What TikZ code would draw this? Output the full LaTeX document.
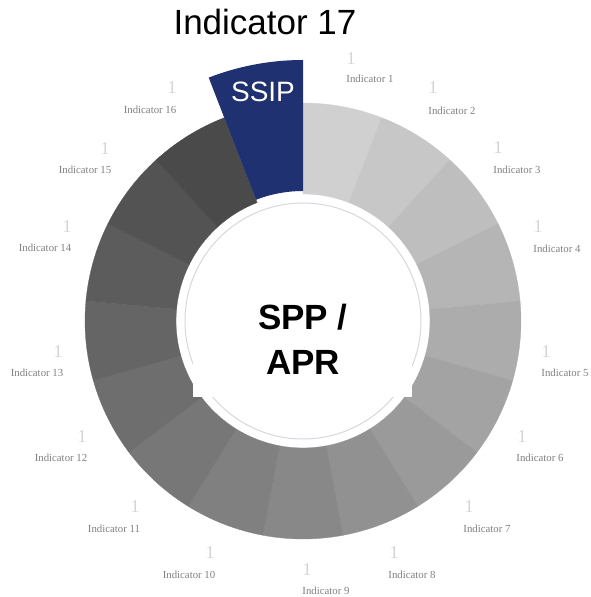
\documentclass[tikz,border=0pt]{standalone}
\usepackage{fontspec}
\setmainfont{Liberation Serif}
\newfontfamily\arial{Liberation Sans}
\usetikzlibrary{calc}
\definecolor{ssipblue}{HTML}{1F3170}
\definecolor{ringline}{HTML}{D6D6E0}
\definecolor{valgray}{HTML}{D4D4D4}
\definecolor{labgray}{HTML}{808080}

\begin{document}
\begin{tikzpicture}[x=1pt,y=1pt,
  value/.style={font=\fontsize{18}{18}\selectfont, text=valgray, inner sep=0pt},
  indlabel/.style={font=\fontsize{10.8}{10.8}\selectfont, text=labgray, inner sep=0pt}]
\useasboundingbox (0,0) rectangle (590,597);
\coordinate (origin) at (303,276);
% Draw the grey segments
\begin{scope}[shift={(origin)}]
\foreach \i in {1,...,16} {
  \pgfmathsetmacro{\start}{90-(\i-1)*360/17}
  \pgfmathsetmacro{\stop}{90-\i*360/17}
  \pgfmathsetmacro{\shade}{81.5-(\i-1)*3.5}
  \fill[white!\shade!black, draw=white!\shade!black, line width=0.3pt] (\start:127pt) arc[start angle=\start, end angle=\stop, radius=127pt] -- (\stop:218pt) arc[start angle=\stop, end angle=\start, radius=218pt] -- cycle;
}
% Draw the SSIP segment
\fill[ssipblue] (90:130pt) arc[start angle=90, end angle={90+360/17}, radius=130pt] -- ({90+360/17}:261pt) arc[start angle={90+360/17}, end angle=90, radius=261pt] -- cycle;
\end{scope}
% Draw thin inner circle and white box
\draw[ringline, line width=1pt] (origin) circle[radius=118pt];
\fill[white] (193,200) rectangle (412,300);
% Texts
\node[font=\arial\fontsize{35}{35}\selectfont, anchor=base] (title) at (265,562) {Indicator 17};
\node[font=\arial\fontsize{28}{28}\selectfont, text=white, anchor=base] (ssip) at (263,495) {SSIP};
\node[font=\arial\bfseries\fontsize{35}{35}\selectfont, anchor=base] (centre-top) at (303,267) {SPP /};
\node[font=\arial\bfseries\fontsize{35}{35}\selectfont, anchor=base] (centre-bottom) at (303,222) {APR};
% Values and indicator names
\foreach \i/\vx/\vy/\lx/\ly in {1/351/538/370/518, 2/433/509/452/486, 3/498/449/517/427, 4/538/370/557/348,
  5/546/245/565/224, 6/522/160/540/139, 7/469/90/487/68, 8/394/44/412/22, 9/307/27/326/6,
  10/210/44/189/22, 11/135/90/114/68, 12/82/160/61/139, 13/58/245/37/224, 14/67/370/45/349,
  15/105/448/85/427, 16/172/509/150/487} {
  \node[value] (value-\i) at (\vx,\vy) {1};
  \node[indlabel] (indicator-\i) at (\lx,\ly) {Indicator \i};
}
\end{tikzpicture}
\end{document}
